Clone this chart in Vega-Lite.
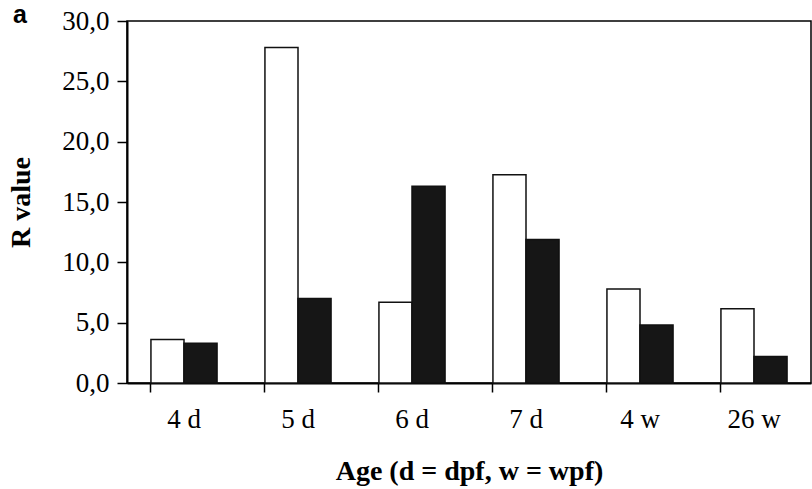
{
  "$schema": "https://vega.github.io/schema/vega-lite/v6.json",
  "width": 684,
  "height": 362,
  "autosize": {"type": "none"},
  "padding": {"left": 127, "top": 21, "right": 1, "bottom": 106},
  "background": "white",
  "title": {"text": "a", "anchor": "start", "frame": "group", "dx": -114, "offset": 0, "dy": 41, "baseline": "alphabetic", "fontSize": 25, "font": "Liberation Sans", "fontWeight": "bold", "color": "#000000"},
  "data": {
    "values": [
      {"age": "4 d", "group": "A", "r": 3.6},
      {"age": "4 d", "group": "B", "r": 3.3},
      {"age": "5 d", "group": "A", "r": 27.8},
      {"age": "5 d", "group": "B", "r": 7.0},
      {"age": "6 d", "group": "A", "r": 6.7},
      {"age": "6 d", "group": "B", "r": 16.3},
      {"age": "7 d", "group": "A", "r": 17.25},
      {"age": "7 d", "group": "B", "r": 11.9},
      {"age": "4 w", "group": "A", "r": 7.8},
      {"age": "4 w", "group": "B", "r": 4.8},
      {"age": "26 w", "group": "A", "r": 6.15},
      {"age": "26 w", "group": "B", "r": 2.2}
    ]
  },
  "mark": {"type": "bar", "stroke": "#111111", "strokeWidth": 1.5},
  "encoding": {
    "x": {
      "field": "age", "type": "nominal", "sort": null,
      "scale": {"paddingInner": 0.42, "paddingOuter": 0.21},
      "axis": {
        "title": "Age (d = dpf, w = wpf)", "labelAngle": 0, "bandPosition": 0,
        "tickSize": 9, "labelPadding": 14, "titlePadding": 25,
        "domainColor": "#000000", "tickColor": "#000000", "domainWidth": 2, "tickWidth": 1.5
      }
    },
    "xOffset": {"field": "group", "type": "nominal"},
    "y": {
      "field": "r", "type": "quantitative",
      "scale": {"domain": [0, 30]},
      "axis": {
        "title": "R value", "values": [0, 5, 10, 15, 20, 25, 30], "grid": false,
        "labelExpr": "replace(format(datum.value, '.1f'), '.', ',')",
        "tickSize": 10, "labelPadding": 8, "titlePadding": 26,
        "domainColor": "#000000", "tickColor": "#000000", "domainWidth": 2, "tickWidth": 1.5
      }
    },
    "fill": {
      "field": "group", "type": "nominal",
      "scale": {"domain": ["A", "B"], "range": ["#ffffff", "#161616"]},
      "legend": null
    }
  },
  "config": {
    "view": {"stroke": "#000000", "strokeWidth": 1.5},
    "axis": {
      "labelFont": "Liberation Serif", "labelFontSize": 27, "labelColor": "#000000",
      "titleFont": "Liberation Serif", "titleFontSize": 28, "titleFontWeight": "bold", "titleColor": "#000000"
    }
  }
}
